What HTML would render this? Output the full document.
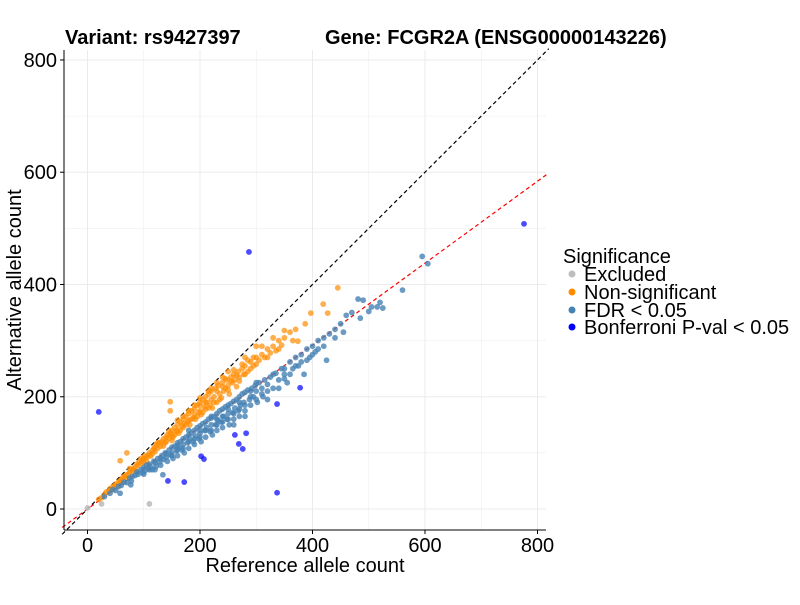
<!DOCTYPE html>
<html><head><meta charset="utf-8"><style>
body{margin:0;background:#fff;font-family:"Liberation Sans",Arial,sans-serif}
svg text{font-family:"Liberation Sans",Arial,sans-serif}
</style></head><body>
<svg id="chart" width="800" height="600" viewBox="0 0 800 600" xmlns="http://www.w3.org/2000/svg">
<rect width="800" height="600" fill="#fff"/>
<g id="grid"></g>
<g id="lines"></g>
<g id="pts"></g>
<g id="axes"></g>
<text x="65" y="44" font-size="20" font-weight="bold">Variant: rs9427397</text>
<text x="325" y="44" font-size="20" font-weight="bold">Gene: FCGR2A (ENSG00000143226)</text>
<text x="305" y="572" font-size="20" text-anchor="middle">Reference allele count</text>
<text transform="translate(21,290) rotate(-90)" font-size="20" text-anchor="middle">Alternative allele count</text>
<g>
<text x="563" y="263" font-size="20">Significance</text>
<g><circle cx="572" cy="274" r="3.5" fill="#BEBEBE"/><text x="584" y="281" font-size="20">Excluded</text></g>
<g><circle cx="572" cy="292" r="3.5" fill="#FF8C00"/><text x="584" y="299" font-size="20">Non-significant</text></g>
<g><circle cx="572" cy="310" r="3.5" fill="#4682B4"/><text x="584" y="317" font-size="20">FDR &lt; 0.05</text></g>
<g><circle cx="572" cy="327" r="3.5" fill="#0000FF"/><text x="584" y="334" font-size="20">Bonferroni P-val &lt; 0.05</text></g>
</g>
</svg>
<script>
const xTicks=[0,200,400,600,800];
const yTicks=[0,200,400,600,800];
const excludedRef=[0,25,110];
const excludedAlt=[2,9,9];
const nsRef=[20,25,30,33,38,40,42,45,48,50,52,55,58,60,62,65,68,70,72,75,78,80,82,85,88,90,92,95,98,100,100,102,105,108,110,112,115,118,120,120,122,125,128,130,132,135,138,140,140,142,145,148,150,150,152,155,158,160,160,162,165,168,170,170,172,175,178,180,180,182,185,188,190,190,192,195,198,200,200,202,205,208,210,210,212,215,218,220,220,222,225,228,230,232,235,238,240,242,245,248,250,252,255,258,260,262,265,268,270,275,278,280,285,290,295,300,305,310,315,320,325,330,335,340,345,350,360,365,370,374,387,397,419,427,445,147,147,70,58,
60,75,85,95,105,115,125,135,145,150,155,160,165,170,175,180,185,190,195,200,205,210,215,220,225,230,235,240,245,250,255,260,265,270,275,280,285,290,295,300,310,320,330,340,350,300,280,240,200,215,230,250];
const nsAlt=[17,20,25,30,32,36,33,40,41,44,40,48,50,47,55,58,60,55,62,65,70,68,72,75,80,78,84,82,88,90,82,95,92,96,100,94,104,108,102,110,115,108,118,112,120,125,118,128,120,132,126,135,130,140,128,145,138,150,140,135,155,148,160,145,152,165,155,170,158,150,175,162,178,168,160,185,172,190,175,168,195,182,200,178,190,205,185,210,195,180,200,215,190,220,205,198,225,210,215,230,220,205,235,225,240,230,218,245,235,250,240,255,245,262,255,270,265,275,270,285,278,290,282,300,292,305,315,300,320,299,330,349,365,349,394,191,175,100,86,
52,72,68,90,85,98,118,112,138,122,132,158,140,165,150,175,160,185,165,198,172,190,180,215,190,225,195,218,232,212,228,248,238,228,258,240,265,250,270,258,290,270,305,285,318,290,270,235,185,210,210,245];
const fdrRef=[30,40,45,50,55,60,65,70,75,78,80,85,88,90,95,98,100,102,105,108,110,112,115,118,120,122,125,128,130,132,135,138,140,142,145,148,150,150,152,155,158,160,160,162,165,168,170,170,172,175,178,180,180,182,185,188,190,190,192,195,198,200,200,202,205,208,210,210,212,215,218,220,220,222,225,228,230,230,232,235,238,240,240,242,245,248,250,250,252,255,258,260,260,262,265,268,270,270,272,275,278,280,280,285,288,290,292,295,298,300,302,305,310,312,315,320,325,330,335,340,345,350,355,360,365,370,375,380,385,390,395,400,405,410,420,425,430,440,450,460,470,481,485,490,500,505,515,520,525,560,595,605,134,58,77,
100,110,120,130,140,150,160,170,180,190,200,210,220,230,240,250,260,270,280,290,300,310,320,330,340,350,360,370,380,390,400,410,420,320,280,260,240,220,200,180,160,230,250,270,290,300,350,440,455];
const fdrAlt=[22,28,35,33,40,42,48,47,55,50,58,60,66,62,70,65,74,68,78,72,80,75,70,85,82,76,90,84,78,95,88,100,92,85,105,96,110,100,90,112,104,118,95,110,120,105,125,115,100,128,118,132,108,125,135,120,140,115,130,145,125,148,135,120,152,140,155,128,145,160,138,162,150,132,165,150,170,140,158,175,155,178,145,165,182,160,185,170,150,188,172,192,160,180,195,175,200,165,185,205,190,208,175,212,195,185,215,200,220,210,190,225,215,200,230,222,235,215,242,230,250,240,225,262,250,270,255,275,240,285,270,290,280,300,305,265,312,320,330,345,350,374,340,372,352,360,360,368,358,390,450,437,61,28,43,
62,70,70,90,98,95,105,108,120,125,128,140,140,150,155,160,170,178,185,200,195,205,210,240,215,250,240,255,262,265,275,285,290,195,165,150,165,165,140,140,112,160,178,190,210,225,232,305,315];
const bonfRef=[20,378,337,262,282,269,276,202,207,143,172,337,287,776];
const bonfAlt=[173,216,187,132,135,116,107,94,89,50,48,29,458,508];

const NS='http://www.w3.org/2000/svg';
const X0=64,X1=546,Y0=530,Y1=50;
const xs=v=>87.5+v*0.5625;
const ys=v=>509-v*0.5613;
function el(tag,attrs,parent){const e=document.createElementNS(NS,tag);for(const k in attrs)e.setAttribute(k,attrs[k]);parent.appendChild(e);return e;}
const grid=document.getElementById('grid');
for(let v=0;v<=800;v+=100){
  const gx=el('line',{x1:xs(v),x2:xs(v),y1:Y1,y2:Y0,stroke:'#EBEBEB','stroke-width':v%200?0.5:1},grid);
  
  
  const gy=el('line',{x1:X0,x2:X1,y1:ys(v),y2:ys(v),stroke:'#EBEBEB','stroke-width':v%200?0.5:1},grid);
  
  
}
const lines=document.getElementById('lines');
const lo=-45,hi=820;
const idl=el('line',{x1:xs(lo),y1:ys(lo),x2:xs(hi),y2:ys(hi),stroke:'#000','stroke-width':1.2,'stroke-dasharray':'4,3'},lines);


const slope=0.73;
const fit=el('line',{x1:xs(lo),y1:ys(lo*slope),x2:xs(hi),y2:ys(hi*slope),stroke:'#FF0000','stroke-width':1.2,'stroke-dasharray':'4,3'},lines);


const pts=document.getElementById('pts');
function series(rx,ay,color,op,name){
  for(let i=0;i<rx.length;i++){
    const c=el('circle',{cx:xs(rx[i]),cy:ys(ay[i]),r:2.9,fill:color,'fill-opacity':op},pts);
    
    
  }
}
series(excludedRef,excludedAlt,'#BEBEBE',0.9,'point-excluded');
series(nsRef,nsAlt,'#FF8C00',0.7,'point-nonsignificant');
series(fdrRef,fdrAlt,'#4682B4',0.8,'point-fdr');
series(bonfRef,bonfAlt,'#0000FF',0.7,'point-bonferroni');
const axes=document.getElementById('axes');
el('line',{x1:X0,x2:X0,y1:Y1,y2:Y0,stroke:'#000','stroke-width':1},axes);
el('line',{x1:X0,x2:X1,y1:Y0,y2:Y0,stroke:'#000','stroke-width':1},axes);
xTicks.forEach(v=>{
  el('line',{x1:xs(v),x2:xs(v),y1:Y0,y2:Y0+4,stroke:'#000'},axes);
  const t=el('text',{x:xs(v),y:Y0+22,'font-size':20,'text-anchor':'middle',fill:'#000'},axes);
  t.textContent=v;
  
  
});
yTicks.forEach(v=>{
  el('line',{x1:X0-4,x2:X0,y1:ys(v),y2:ys(v),stroke:'#000'},axes);
  const t=el('text',{x:X0-7,y:ys(v)+7,'font-size':20,'text-anchor':'end',fill:'#000'},axes);
  t.textContent=v;
  
  
});
</script>
</body></html>
